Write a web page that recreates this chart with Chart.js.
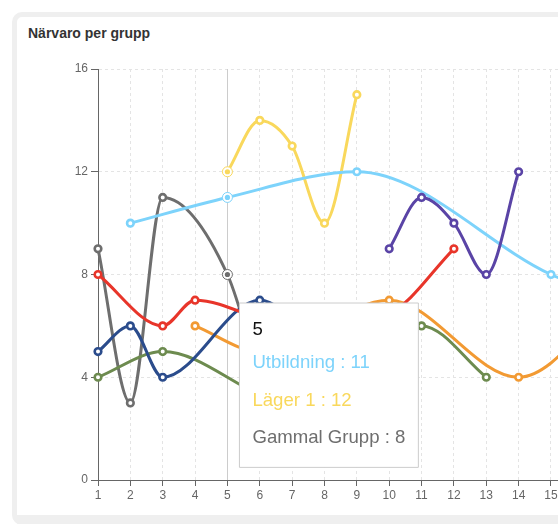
<!DOCTYPE html>
<html>
<head>
<meta charset="utf-8">
<title>Närvaro per grupp</title>
<script src="https://cdn.jsdelivr.net/npm/chart.js@4.4.1/dist/chart.umd.min.js"></script>
<style>
  html, body { margin: 0; padding: 0; background: #fff; overflow: hidden; }
  body { width: 558px; height: 524px; position: relative; }
  .card {
    position: absolute; left: 12px; top: 12px; width: 720px; height: 513px;
    box-sizing: border-box; border: 5px solid #efefef; border-bottom-width: 10px;
    border-radius: 10px; background: #fff;
  }
  .card-title {
    position: absolute; left: 28px; top: 25px; line-height: 20px;
    font: bold 14px "Liberation Sans", Arial, sans-serif; color: #333;
  }
  #chart { position: absolute; left: 0; top: 0; }
</style>
</head>
<body>
<div class="card"></div>
<div class="card-title">Närvaro per grupp</div>
<canvas id="chart" width="640" height="524"></canvas>
<script>
// Sessions along the x axis
const categories = ['1','2','3','4','5','6','7','8','9','10','11','12','13','14','15','16','17'];

// Attendance per group (null = no session for that group)
const nyborjare    = [8, null, 6, 7, null, null, 6, null, null, 6.5, null, 9, null, null, null, null, null];
const fortsattning = [5, 6, 4, null, null, 7, null, 5, null, null, null, null, null, null, null, null, null];
const senior       = [4, null, 5, null, null, null, 3, null, 5, null, 6, null, 4, null, null, null, null];
const lager2       = [null, null, null, 6, null, 5, null, null, null, 7, null, null, null, 4, null, null, 7];
const junior       = [null, null, null, null, null, null, null, null, null, 9, 11, 10, 8, 12, null, null, null];
const utbildning   = [null, 10, null, null, 11, null, null, null, 12, null, null, null, null, null, 8, null, 7];
const lager1       = [null, null, null, null, 12, 14, 13, 10, 15, null, null, null, null, null, null, null, null];
const gammalGrupp  = [9, 3, 11, null, 8, 4, null, null, null, null, null, null, null, null, null, null, null];

const yTicks = [0, 4, 8, 12, 16];
const highlightedSession = '5';

Chart.defaults.font.family = '"Liberation Sans", Arial, sans-serif';

function series(label, data, color) {
  return {
    label, data,
    borderColor: color,
    backgroundColor: color,
    borderWidth: 3,
    pointRadius: 3.3,
    pointBorderWidth: 2.6,
    pointBackgroundColor: '#fff',
    pointBorderColor: color,
    fill: false,
    spanGaps: true,
    cubicInterpolationMode: 'monotone'
  };
}

const datasets = [
  series('Nybörjare', nyborjare, '#e8352a'),
  series('Fortsättning', fortsattning, '#2b4c8c'),
  series('Senior', senior, '#6d8b4f'),
  series('Läger 2', lager2, '#f29a33'),
  series('Junior', junior, '#5a44a6'),
  series('Utbildning', utbildning, '#7dd3fb'),
  series('Läger 1', lager1, '#f9d85c'),
  series('Gammal Grupp', gammalGrupp, '#6e6e6e')
];

// Tooltip sits just to the right of the hovered session
Chart.Tooltip.positioners.beside = function (elements, eventPosition) {
  if (!elements.length) return false;
  return { x: elements[0].element.x + 12, y: eventPosition.y, xAlign: 'left', yAlign: 'top' };
};

// Cursor line under the series and highlighted dots on top of them
const hoverMarks = {
  id: 'hoverMarks',
  beforeDatasetsDraw(chart) {
    const act = chart.tooltip ? chart.tooltip.getActiveElements() : [];
    if (!act.length) return;
    const { ctx, chartArea } = chart;
    const x = Math.round(act[0].element.x) + 0.5;
    ctx.save();
    ctx.strokeStyle = '#cccccc';
    ctx.lineWidth = 1;
    ctx.beginPath();
    ctx.moveTo(x, chartArea.top);
    ctx.lineTo(x, chartArea.bottom);
    ctx.stroke();
    ctx.restore();
  },
  afterDatasetsDraw(chart) {
    const act = chart.tooltip ? chart.tooltip.getActiveElements() : [];
    const ctx = chart.ctx;
    act.forEach(a => {
      const { x, y } = a.element;
      const color = chart.data.datasets[a.datasetIndex].borderColor;
      ctx.save();
      ctx.beginPath();
      ctx.arc(x, y, 5, 0, Math.PI * 2);
      ctx.fillStyle = '#fff';
      ctx.fill();
      ctx.lineWidth = 1;
      ctx.strokeStyle = color;
      ctx.stroke();
      ctx.beginPath();
      ctx.arc(x, y, 2.6, 0, Math.PI * 2);
      ctx.fillStyle = color;
      ctx.fill();
      ctx.restore();
    });
  }
};

const axisCommon = {
  grid: { color: '#e4e4e4', lineWidth: 1, tickColor: '#666', tickBorderDash: [] },
  border: { display: true, color: '#666', width: 1, dash: [3, 3] }
};

const chart = new Chart(document.getElementById('chart'), {
  type: 'line',
  data: { labels: categories, datasets },
  options: {
    responsive: false,
    animation: false,
    events: [],
    layout: { padding: { top: 69, right: 24.3, bottom: 14, left: 0 } },
    scales: {
      x: {
        type: 'category',
        offset: false,
        grid: { ...axisCommon.grid, tickLength: 6 },
        border: axisCommon.border,
        ticks: { color: '#666', font: { size: 12 }, padding: 2, autoSkip: false, maxRotation: 0 },
        afterFit(scale) { scale.height = 30; }
      },
      y: {
        min: yTicks[0],
        max: yTicks[yTicks.length - 1],
        grid: { ...axisCommon.grid, tickLength: 7 },
        border: axisCommon.border,
        ticks: { color: '#666', font: { size: 12 }, padding: 3, stepSize: yTicks[1] - yTicks[0] },
        afterFit(scale) { scale.width = 98; }
      }
    },
    plugins: {
      legend: { display: false },
      title: { display: false },
      tooltip: {
        enabled: true,
        position: 'beside',
        xAlign: 'left',
        yAlign: 'top',
        backgroundColor: '#ffffff',
        borderColor: '#cccccc',
        borderWidth: 1,
        cornerRadius: 0,
        caretSize: 0,
        caretPadding: 0,
        displayColors: false,
        padding: { top: 16, bottom: 18, left: 13, right: 13 },
        titleColor: '#111',
        titleFont: { size: 18.6, weight: 'normal' },
        titleMarginBottom: 10.5,
        bodyFont: { size: 18.6 },
        bodySpacing: 15.3,
        callbacks: {
          label: ctx => ctx.dataset.label + ' : ' + ctx.parsed.y,
          labelTextColor: ctx => ctx.dataset.borderColor
        }
      }
    }
  },
  plugins: [hoverMarks]
});

// Show the tooltip for the highlighted session
const sessionIndex = categories.indexOf(highlightedSession);
const activeSets = datasets
  .map((ds, i) => ({ datasetIndex: i, index: sessionIndex, v: ds.data[sessionIndex] }))
  .filter(a => a.v !== null)
  .map(({ datasetIndex, index }) => ({ datasetIndex, index }));
const anchor = chart.getDatasetMeta(activeSets[0].datasetIndex).data[sessionIndex];
chart.tooltip.setActiveElements(activeSets, { x: anchor.x, y: chart.chartArea.top + 234 });
chart.update();
</script>
</body>
</html>
